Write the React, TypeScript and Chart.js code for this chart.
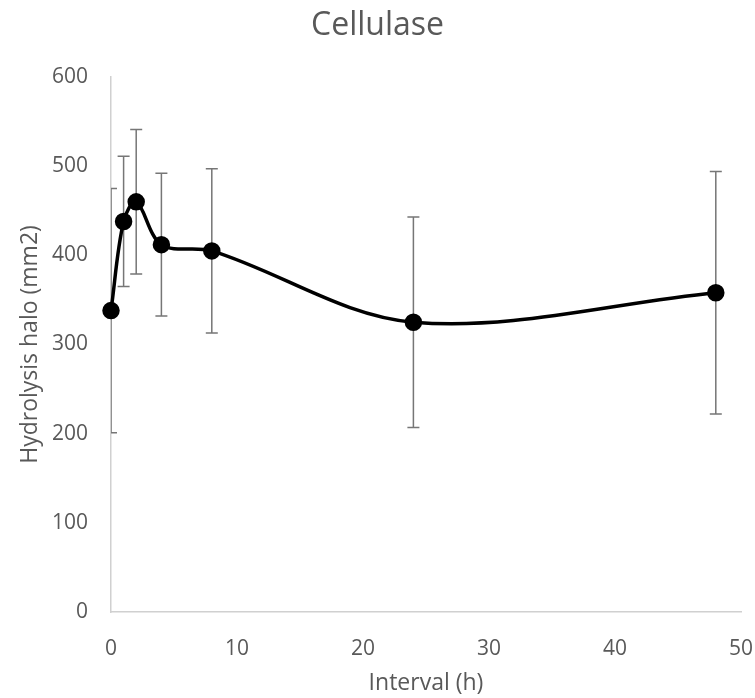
import React, { useEffect, useRef } from "react";
import { Chart, registerables } from "chart.js";

Chart.register(...registerables);

const intervals = [0, 1, 2, 4, 8, 24, 48];
const halo = [338, 438, 460, 412, 405, 325, 358];
const haloErr = [137, 73, 81, 80, 92, 118, 136];

const titleText = "Cellulase";
const xTitle = "Interval (h)";
const yTitle = "Hydrolysis halo (mm2)";

const FONT = "'Open Sans', 'Noto Sans', sans-serif";
const TEXT = "#595959";

const errorBars = {
  id: "errorBars",
  beforeDatasetsDraw(chart: any) {
    const { ctx, chartArea, scales } = chart;
    const xs = scales.x;
    const ys = scales.y;
    ctx.save();
    ctx.beginPath();
    ctx.rect(chartArea.left, chartArea.top, chartArea.right - chartArea.left, chartArea.bottom - chartArea.top);
    ctx.clip();
    ctx.strokeStyle = "#767676";
    ctx.lineWidth = 1.5;
    intervals.forEach((xv, i) => {
      const px = xs.getPixelForValue(xv);
      const top = ys.getPixelForValue(halo[i] + haloErr[i]);
      const bot = ys.getPixelForValue(halo[i] - haloErr[i]);
      ctx.beginPath();
      ctx.moveTo(px, top);
      ctx.lineTo(px, bot);
      ctx.moveTo(px - 6, top);
      ctx.lineTo(px + 6, top);
      ctx.moveTo(px - 6, bot);
      ctx.lineTo(px + 6, bot);
      ctx.stroke();
    });
    ctx.restore();
  },
};

export default function App() {
  const ref = useRef<HTMLCanvasElement>(null);
  useEffect(() => {
    document.body.style.margin = "0";
    const chart = new Chart(ref.current!, {
      type: "line",
      data: {
        datasets: [
          {
            data: intervals.map((x, i) => ({ x, y: halo[i] })),
            borderColor: "#000000",
            backgroundColor: "#000000",
            borderWidth: 3.5,
            pointRadius: 7,
            pointHoverRadius: 7,
            pointBackgroundColor: "#000000",
            pointBorderColor: "#000000",
            tension: 0.34,
            clip: false as any,
          },
        ],
      },
      options: {
        animation: false,
        responsive: false,
        layout: { padding: 0 },
        plugins: {
          legend: { display: false },
          tooltip: { enabled: false },
          title: {
            display: true,
            text: titleText,
            color: TEXT,
            font: { family: FONT, size: 32, weight: "normal" as any },
            padding: { top: 7, bottom: 31.6 },
          },
        },
        scales: {
          x: {
            type: "linear",
            min: 0,
            max: 50,
            ticks: { stepSize: 10, color: TEXT, font: { family: FONT, size: 21 }, padding: 24, maxRotation: 0 },
            grid: { display: false, drawTicks: false },
            border: { display: true, color: "#d0d0d0", width: 1.5 },
            title: { display: true, text: xTitle, color: TEXT, font: { family: FONT, size: 23 }, padding: { top: 4, bottom: 1 } },
            afterFit: (s: any) => {
              s.height = 86;
              s.paddingRight = 14;
              s.paddingLeft = 0;
            },
          },
          y: {
            type: "linear",
            min: 0,
            max: 600,
            ticks: { stepSize: 100, color: TEXT, font: { family: FONT, size: 21 }, padding: 23 },
            grid: { display: false, drawTicks: false },
            border: { display: true, color: "#d0d0d0", width: 1.5 },
            title: { display: true, text: yTitle, color: TEXT, font: { family: FONT, size: 23 }, padding: { top: 17, bottom: 0 } },
            afterFit: (s: any) => {
              s.width = 111;
              s.paddingTop = 0;
              s.paddingBottom = 0;
            },
          },
        },
      },
      plugins: [errorBars],
    });
    return () => chart.destroy();
  }, []);
  return <canvas ref={ref} width={755} height={698} style={{ display: "block" }} />;
}
